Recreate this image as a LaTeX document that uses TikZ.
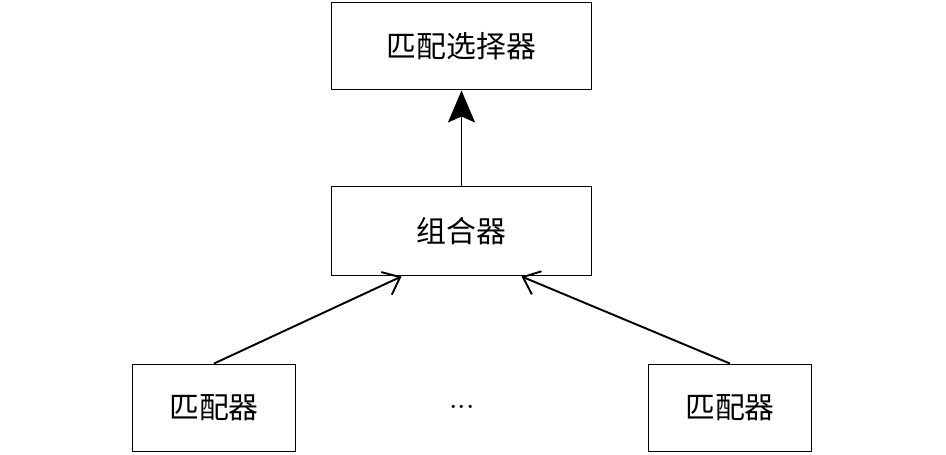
\documentclass[tikz,border=0pt]{standalone}
\usepackage{fontspec}
\setmainfont{Noto Sans CJK SC}
\usetikzlibrary{arrows.meta}

\begin{document}
\begin{tikzpicture}[x=0.02cm, y=-0.02cm,
    box/.style={draw, line width=1.1pt, minimum height=1.74cm, font=\fontsize{17}{19}\selectfont},
    widebox/.style={box, minimum width=5.2cm},
    smallbox/.style={box, minimum width=3.26cm},
    link/.style={line width=1.1pt}]
	\useasboundingbox (0,0) rectangle (946,454);
	\node[widebox] (sel) at (461.5,46) {匹配选择器};
	\node[widebox, minimum height=1.78cm] (comb) at (461.5,231) {组合器};
	\node[smallbox] (ml) at (214,408) {匹配器};
	\node[smallbox] (mr) at (730,408) {匹配器};
	\node (dots) at (462,408) {\fontsize{16}{18}\selectfont ${\cdot}{\cdot}{\cdot}$};
	% arrows
	\draw[link, -{Stealth[length=0.64cm, width=0.54cm, inset=0.12cm]}] (comb.north) -- (sel.south);
	\draw[link, -{Straight Barb[length=0.3cm, width=0.5cm]}] (ml.north) -- ([xshift=-1.2cm]comb.south);
	\draw[link, -{Straight Barb[length=0.3cm, width=0.5cm]}] (mr.north) -- ([xshift=1.2cm]comb.south);
\end{tikzpicture}
\end{document}
